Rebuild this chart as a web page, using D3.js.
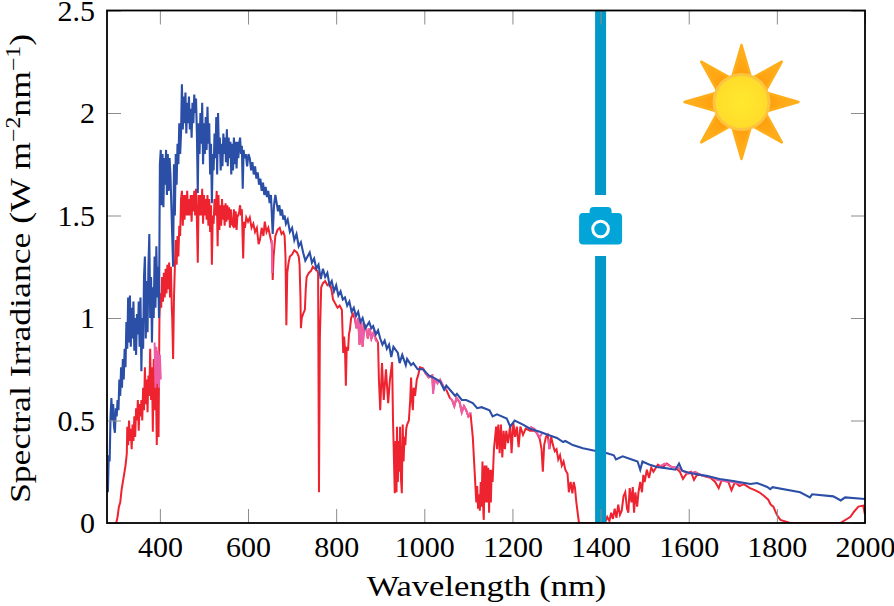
<!DOCTYPE html>
<html>
<head>
<meta charset="utf-8">
<title>Spectral irradiance</title>
<script src="https://cdn.jsdelivr.net/npm/d3@7"></script>
<style>
  html, body { margin: 0; padding: 0; background: #fff; overflow: hidden; }
  svg { display: block; }
  text { font-family: "Liberation Serif", serif; fill: #000; }
</style>
</head>
<body>
<svg id="chart" width="894" height="606"></svg>
<script>
var xTicks = [400, 600, 800, 1000, 1200, 1400, 1600, 1800, 2000];
var yTicks = [0, 0.5, 1, 1.5, 2, 2.5];
var yTickLabels = ["0", "0.5", "1", "1.5", "2", "2.5"];
var markerWavelength = 1400;

// top of atmosphere curve
var blueWl = [
  282,284,286,288,290,292,294,296,298,300,302,304,
  306,308,310,312,314,316,318,320,322,324,326,328,
  330,332,334,336,338,340,342,344,346,348,350,352,
  354,356,358,360,362,364,366,368,370,372,374,376,
  378,380,382,384,386,388,390,392,394,396,398,400,
  402,404,406,408,410,412,414,416,418,420,422,424,
  426,428,430,432,434,436,438,440,442,444,446,448,
  450,452,454,456,458,460,462,464,466,468,470,472,
  474,476,478,480,482,484,486,488,490,492,494,496,
  498,500,502,504,506,508,510,512,514,516,518,520,
  522,524,526,528,530,532,534,536,538,540,542,544,
  546,548,550,552,554,556,558,560,562,564,566,568,
  570,572,574,576,578,580,582,584,586,588,590,592,
  595,598,601,604,607,610,613,616,619,622,625,628,
  631,634,637,640,643,646,649,652,656,659,662,665,
  668,671,674,677,680,683,686,690,695,700,705,710,
  715,720,725,730,735,740,745,750,755,760,765,770,
  775,780,785,790,795,800,805,810,815,820,825,830,
  835,840,845,850,855,860,866,875,880,884,890,895,
  900,905,910,915,920,925,930,940,944,950,958,961,
  970,975,985,997,1010,1020,1036,1045,1050,1062,1070,1074,
  1085,1095,1110,1120,1130,1148,1155,1165,1187,1195,1205,1224,
  1240,1262,1280,1301,1315,1320,1337,1360,1392,1415,1430,1435,
  1450,1474,1484,1490,1495,1510,1528,1540,1570,1578,1585,1603,
  1640,1670,1701,1740,1755,1778,1785,1790,1853,1875,1880,1928,
  1945,1955,2000
];
var blueVal = [
  .15,.33,.30,.52,.61,.50,.58,.47,.44,.56,.52,.60,
  .55,.70,.62,.76,.66,.80,.70,.85,.76,.98,.85,1.10,
  .88,1.11,.86,1.05,.90,1.08,.84,1.0,.82,1.02,.92,1.08,
  .86,1.1,.74,1.0,.85,1.2,1.30,.9,1.18,.93,1.25,1.41,
  1.0,1.2,.88,1.15,1.0,1.3,1.05,1.35,1.1,1.25,1.0,1.75,
  1.82,1.55,1.8,1.54,1.78,1.65,1.82,1.6,1.8,1.62,1.78,1.7,
  1.55,1.4,1.25,1.75,1.5,1.8,1.65,1.85,1.75,1.95,1.8,1.9,
  2.14,1.92,2.08,1.95,2.1,1.9,2.05,1.95,2.08,1.92,2.02,1.88,
  2.05,1.95,2.09,2.0,2.07,1.9,1.61,1.95,1.8,2.0,1.85,2.05,
  1.75,1.95,1.8,1.98,1.82,2.03,1.85,1.95,1.7,1.85,1.56,1.8,
  1.72,1.9,1.78,1.98,1.7,2.0,1.8,1.88,1.72,1.85,1.74,1.9,
  1.8,1.88,1.76,1.92,1.74,1.88,1.78,1.86,1.7,1.85,1.72,1.88,
  1.75,1.86,1.73,1.86,1.78,1.85,1.88,1.8,1.84,1.63,1.82,1.78,
  1.80,1.74,1.80,1.78,1.72,1.76,1.70,1.74,1.68,1.71,1.65,1.68,
  1.62,1.66,1.6,1.64,1.59,1.62,1.56,1.6,1.41,1.55,1.6,1.56,
  1.52,1.55,1.5,1.53,1.48,1.5,1.46,1.48,1.42,1.44,1.38,1.41,
  1.35,1.37,1.32,1.28,1.3,1.32,1.27,1.29,1.24,1.26,1.19,1.24,
  1.2,1.22,1.16,1.18,1.13,1.16,1.11,1.13,1.09,1.10,1.06,1.08,
  1.03,1.05,1.01,1.03,.98,1.0,.95,.98,.95,.96,.92,.94,
  .90,.87,.89,.85,.87,.81,.86,.83,.78,.82,.77,.80,
  .77,.78,.75,.75,.72,.71,.69,.65,.67,.64,.62,.63,
  .6,.6,.585,.56,.565,.55,.52,.53,.51,.47,.5,.48,
  .46,.445,.43,.415,.395,.4,.38,.365,.35,.34,.33,.31,
  .325,.307,.3,.26,.3,.285,.273,.27,.26,.29,.255,.244,
  .23,.215,.205,.19,.195,.176,.165,.175,.15,.125,.14,.13,
  .11,.125,.117
];

// ground level curve
var redWl = [
  298,301,304,307,310,313,316,319,322,325,326,328,
  330,332,334,336,338,340,342,344,346,348,350,352,
  354,356,358,360,362,364,366,368,370,372,374,376,
  378,380,382,384,386,388,390,393,395,397,399,401,
  403,405,407,409,411,413,415,417,419,421,423,425,
  427,428,430,432,434,436,438,440,442,444,446,448,
  450,452,454,456,458,460,462,464,466,468,470,472,
  474,476,478,480,482,484,486,488,490,492,494,496,
  498,500,502,504,506,508,510,512,514,516,518,520,
  522,524,526,529,531,533,535,537,539,541,543,545,
  547,549,551,553,555,557,559,561,563,566,568,570,
  572,574,576,578,580,582,584,586,589,591,593,596,
  600,604,608,612,616,620,624,627,631,635,638,642,
  646,650,654,656,658,662,667,672,676,680,683,685,
  687,689,692,695,700,705,711,715,717,719,720,722,
  725,729,731,733,738,743,747,752,757,759,761,763,
  766,770,775,780,786,790,793,798,803,808,813,815,
  816,818,820,822,824,827,829,831,834,838,842,846,
  850,853,857,860,864,868,872,876,880,885,890,895,
  897,900,904,908,913,918,922,927,929,933,935,937,
  938,940,942,944,945,947,949,951,953,955,957,959,
  961,965,968,970,972,974,976,979,983,986,990,997,
  1003,1010,1018,1020,1024,1036,1045,1050,1058,1063,1068,1073,
  1080,1085,1090,1095,1100,1105,1110,1116,1118,1120,1122,1124,
  1126,1128,1130,1132,1134,1135,1137,1139,1141,1143,1145,1147,
  1149,1151,1153,1155,1158,1163,1165,1168,1171,1174,1177,1180,
  1183,1186,1190,1195,1198,1202,1206,1210,1214,1218,1224,1230,
  1240,1250,1255,1262,1266,1269,1272,1276,1280,1284,1288,1292,
  1296,1300,1304,1308,1312,1316,1320,1325,1328,1332,1336,1339,
  1342,1345,1348,1351,1410,1415,1420,1424,1428,1432,1436,1440,
  1444,1448,1452,1456,1460,1463,1466,1470,1473,1476,1479,1483,
  1486,1490,1494,1497,1500,1505,1510,1515,1520,1530,1540,1550,
  1560,1570,1580,1587,1595,1605,1612,1620,1640,1650,1660,1668,
  1675,1690,1697,1705,1715,1725,1739,1750,1760,1769,1780,1786,
  1792,1800,1808,1830,1944,1967,1975,1985,1996,2000
];
var redVal = [
  0,0,.03,.08,.1,.16,.2,.24,.28,.34,.47,.38,
  .5,.40,.46,.36,.48,.40,.52,.42,.56,.5,.6,.45,
  .58,.52,.6,.5,.66,.55,.76,.58,.7,.54,.72,.62,
  .85,.6,.76,.445,.8,.55,.82,.38,.8,.42,1.0,1.12,
  1.05,1.2,1.08,1.22,1.1,1.24,1.12,1.26,1.14,1.27,1.1,1.25,
  1.05,1.0,.80,1.1,1.25,1.38,1.26,1.4,1.3,1.45,1.4,1.58,
  1.62,1.45,1.6,1.48,1.6,1.5,1.62,1.5,1.58,1.5,1.6,1.47,
  1.6,1.52,1.62,1.5,1.63,1.48,1.27,1.6,1.5,1.6,1.5,1.63,
  1.46,1.6,1.5,1.58,1.48,1.6,1.45,1.58,1.42,1.55,1.26,1.5,
  1.46,1.58,1.5,1.62,1.35,1.6,1.43,1.55,1.45,1.58,1.48,1.55,
  1.45,1.56,1.47,1.55,1.48,1.54,1.44,1.53,1.46,1.45,1.53,1.44,
  1.52,1.43,1.5,1.5,1.52,1.55,1.5,1.53,1.29,1.47,1.44,1.49,
  1.47,1.49,1.44,1.46,1.42,1.44,1.36,1.38,1.44,1.4,1.47,1.42,
  1.44,1.4,1.36,1.185,1.3,1.4,1.43,1.44,1.41,1.42,1.40,1.30,
  .965,1.22,1.27,1.30,1.31,1.33,1.32,1.3,1.26,1.1,.95,1.0,
  1.02,1.04,1.14,1.20,1.22,1.23,1.25,1.24,1.23,1.22,.15,.9,
  1.15,1.17,1.18,1.16,1.17,1.13,1.09,1.07,1.05,1.06,1.04,.9,
  .83,.91,.85,.67,.86,.84,.92,.94,1.0,1.02,1.0,.95,
  1.0,.87,.98,.86,.97,.95,.9,.95,.9,.93,.9,.88,
  .7,.55,.78,.6,.75,.585,.7,.785,.5,.145,.4,.15,
  .47,.2,.4,.25,.47,.22,.145,.48,.3,.42,.38,.46,
  .48,.5,.6,.71,.6,.55,.66,.62,.7,.72,.76,.755,
  .73,.71,.72,.65,.70,.69,.66,.65,.61,.6,.57,.61,
  .59,.54,.57,.55,.52,.53,.42,.18,.1,.18,.07,.14,
  .06,.2,.08,.3,.05,.015,.28,.1,.28,.1,.27,.05,
  .26,.1,.26,.2,.36,.47,.36,.48,.34,.48,.32,.45,
  .36,.45,.39,.48,.34,.49,.42,.47,.37,.47,.43,.46,
  .45,.45,.44,.41,.36,.25,.38,.42,.43,.36,.42,.38,
  .35,.36,.31,.33,.28,.3,.26,.24,.15,.2,.145,.2,
  .17,.1,.05,0,0,.03,.01,.05,.02,.07,.025,.09,
  .04,.06,.13,.15,.07,.05,.17,.1,.175,.05,.15,.08,
  .15,.2,.15,.235,.2,.26,.22,.27,.25,.285,.27,.29,
  .275,.27,.25,.215,.24,.25,.21,.24,.225,.22,.2,.17,
  .21,.2,.16,.2,.18,.19,.17,.16,.15,.135,.115,.09,
  .08,.04,.015,0,0,.03,.055,.08,.085,.04
];

// pink overlap pieces, null breaks the line
var pinkWl = [
  388,390,392,394,396,398,400,402,null,
  654,655,null,
  842,846,850,853,857,860,864,868,872,876,880,885,890,895,null,
  997,1003,1010,1018,1020,1024,1030,1036,1045,1050,null,
  1058,1063,1068,1073,1080,1085,1090,1095,1100,1105,null,
  1240,1250,1255,1262,1268,null,
  1282,1284,null,
  1530,1545,1560,1575,1590,1600,1615,1630,1650,1665,1680,1700,1720
];
var pinkVal = [
  .88,.66,.86,.68,.84,.66,.82,.70,null,
  1.38,1.22,null,
  1.02,.95,1.0,.87,.98,.86,.97,.95,.90,.95,.90,.93,.89,.88,null,
  .755,.73,.71,.72,.63,.70,.68,.70,.66,.65,null,
  .61,.60,.57,.61,.59,.54,.57,.55,.52,.54,null,
  .47,.46,.44,.42,.44,null,
  .41,.36,null,
  .27,.29,.275,.27,.25,.24,.25,.23,.225,.21,.205,.20,.19
];

var sunRayAngles = [0, 45, 90, 135, 180, 225, 270, 315];

var svg = d3.select("#chart");
var left = 107, right = 865, top_ = 10.5, bottom = 523;

var x = d3.scaleLinear().domain([280, 2000]).range([left, right]);
var y = d3.scaleLinear().domain([0, 2.5]).range([bottom, top_]);

var defs = svg.append("defs");
defs.append("clipPath").attr("id", "plot-clip").append("rect")
    .attr("x", left).attr("y", top_)
    .attr("width", right - left).attr("height", bottom - top_);

var rayGrad = defs.append("radialGradient").attr("id", "ray-grad")
    .attr("gradientUnits", "userSpaceOnUse")
    .attr("cx", 0).attr("cy", 0).attr("r", 60);
rayGrad.append("stop").attr("offset", "45%").attr("stop-color", "#ff9f0c");
rayGrad.append("stop").attr("offset", "100%").attr("stop-color", "#ffb526");

var diskGrad = defs.append("radialGradient").attr("id", "disk-grad");
diskGrad.append("stop").attr("offset", "0%").attr("stop-color", "#ffe92e");
diskGrad.append("stop").attr("offset", "100%").attr("stop-color", "#ffdc2a");

function draw_lines() {
  var g = svg.append("g").attr("clip-path", "url(#plot-clip)");
  var line = d3.line()
      .defined(function(d) { return d[0] !== null; })
      .x(function(d) { return x(d[0]); })
      .y(function(d) { return y(d[1]); });

  g.append("path").datum(d3.zip(redWl, redVal))
      .attr("d", line).attr("fill", "none")
      .attr("stroke", "#ee2330").attr("stroke-width", 2);
  g.append("path").datum(d3.zip(pinkWl, pinkVal))
      .attr("d", line).attr("fill", "none")
      .attr("stroke", "#ee5ea6").attr("stroke-width", 2);
  g.append("path").datum(d3.zip(blueWl, blueVal))
      .attr("d", line).attr("fill", "none")
      .attr("stroke", "#2b4ea6").attr("stroke-width", 2.1);
}

function draw_marker() {
  var cx = x(markerWavelength);
  var g = svg.append("g").attr("fill", "#0299c9");
  g.append("rect").attr("x", cx - 5.5).attr("y", top_)
      .attr("width", 11).attr("height", 195 - top_);
  g.append("rect").attr("x", cx - 5.5).attr("y", 256)
      .attr("width", 11).attr("height", bottom - 256);

  var cam = svg.append("g").attr("transform", "translate(" + cx + ",229)");
  cam.append("rect").attr("x", -11).attr("y", -22)
      .attr("width", 22).attr("height", 12).attr("rx", 4)
      .attr("fill", "#03a5d8");
  cam.append("rect").attr("x", -21.5).attr("y", -16)
      .attr("width", 43).attr("height", 31.5).attr("rx", 4)
      .attr("fill", "#03a5d8");
  cam.append("circle").attr("r", 7.8)
      .attr("fill", "none").attr("stroke", "#fff").attr("stroke-width", 3);
}

function draw_sun() {
  var g = svg.append("g").attr("transform", "translate(741.5,102)");
  g.selectAll("path.ray").data(sunRayAngles).enter().append("path")
      .attr("class", "ray")
      .attr("d", "M0,-57L9,-26L0,-20L-9,-26Z")
      .attr("transform", function(d) { return "rotate(" + d + ")"; })
      .attr("fill", "url(#ray-grad)")
      .attr("stroke", "#ffae1a").attr("stroke-width", 2.5)
      .attr("stroke-linejoin", "round");
  g.append("circle").attr("r", 29).attr("fill", "#fdc440");
  g.append("circle").attr("r", 26).attr("fill", "url(#disk-grad)");
}

function draw_axes() {
  var fs = 30;
  var bottomAxis = d3.axisBottom(x).tickValues(xTicks)
      .tickFormat(d3.format("d")).tickSizeInner(-14).tickSizeOuter(0).tickPadding(13);
  var topAxis = d3.axisTop(x).tickValues(xTicks)
      .tickFormat("").tickSizeInner(-14).tickSizeOuter(0);
  var leftAxis = d3.axisLeft(y).tickValues(yTicks)
      .tickFormat(function(d, i) { return yTickLabels[i]; })
      .tickSizeInner(-14).tickSizeOuter(0).tickPadding(12);
  var rightAxis = d3.axisRight(y).tickValues(yTicks)
      .tickFormat("").tickSizeInner(-14).tickSizeOuter(0);

  var axes = [
    svg.append("g").attr("transform", "translate(0," + bottom + ")").call(bottomAxis),
    svg.append("g").attr("transform", "translate(0," + top_ + ")").call(topAxis),
    svg.append("g").attr("transform", "translate(" + left + ",0)").call(leftAxis),
    svg.append("g").attr("transform", "translate(" + right + ",0)").call(rightAxis)
  ];
  axes.forEach(function(a) {
    a.select(".domain").remove();
    a.selectAll("line").attr("stroke", "#8c8c8c").attr("stroke-width", 1);
    a.selectAll("text").attr("font-size", fs)
        .attr("font-family", "Liberation Serif").attr("fill", "#000");
  });

  svg.append("rect").attr("x", left).attr("y", top_)
      .attr("width", right - left).attr("height", bottom - top_)
      .attr("fill", "none").attr("stroke", "#000").attr("stroke-width", 1.8);

  svg.append("text")
      .attr("transform", "translate(486.5,596) scale(1.15,1)")
      .attr("text-anchor", "middle").attr("font-size", fs)
      .text("Wavelength (nm)");

  var yl = svg.append("text")
      .attr("transform", "translate(30,268.5) rotate(-90) scale(1.19,1)")
      .attr("text-anchor", "middle").attr("font-size", fs);
  yl.append("tspan").text("Spectral Irradiance (W m");
  yl.append("tspan").attr("dy", -10).attr("font-size", 20).text("\u22122");
  yl.append("tspan").attr("dy", 10).text("nm");
  yl.append("tspan").attr("dy", -10).attr("font-size", 20).text("\u22121");
  yl.append("tspan").attr("dy", 10).text(")");
}

draw_lines();
draw_marker();
draw_sun();
draw_axes();
</script>
</body>
</html>
